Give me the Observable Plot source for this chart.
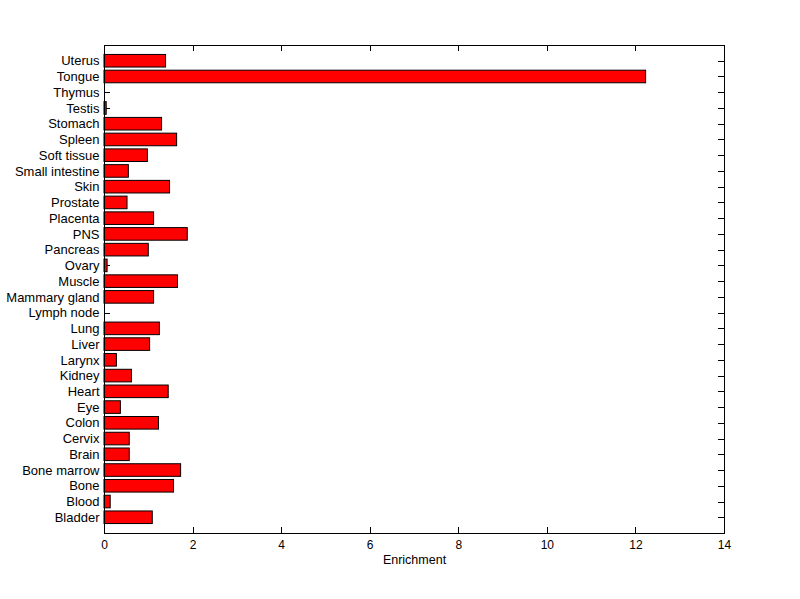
<!DOCTYPE html>
<html><head><meta charset="utf-8">
<script src="https://cdn.jsdelivr.net/npm/d3@7"></script>
<script src="https://cdn.jsdelivr.net/npm/@observablehq/plot@0.6"></script>
<style>body{margin:0;background:#fff}</style>
</head><body><div id="chart"></div>
<script>
const tissues = ["Uterus","Tongue","Thymus","Testis","Stomach","Spleen","Soft tissue","Small intestine","Skin","Prostate","Placenta","PNS","Pancreas","Ovary","Muscle","Mammary gland","Lymph node","Lung","Liver","Larynx","Kidney","Heart","Eye","Colon","Cervix","Brain","Bone marrow","Bone","Blood","Bladder"];
const enrichment = [1.39,12.23,0,0.05,1.30,1.64,0.98,0.55,1.48,0.52,1.12,1.88,1.00,0.07,1.66,1.12,0,1.25,1.03,0.28,0.62,1.45,0.37,1.23,0.57,0.57,1.73,1.57,0.14,1.09];
const xTicks = [0,2,4,6,8,10,12,14];
const n = tissues.length;
const data = tissues.map((t,i)=>({tissue:t, value:enrichment[i], pos:n-i}));
const positions = data.map(d=>d.pos);
const crisp = {stroke:"#000", strokeWidth:1, shapeRendering:"crispEdges"};
const chart = Plot.plot({
  width:800, height:599,
  marginLeft:104, marginRight:76, marginTop:45, marginBottom:66,
  style:{fontFamily:"'Liberation Sans', Arial, sans-serif", fontSize:"13px", background:"#fff", color:"#000"},
  x:{domain:[0,14]},
  y:{domain:[0,n+1]},
  marks:[
    Plot.tickY(positions, {y:d=>d, insetRight:614, ...crisp}),
    Plot.tickY(positions, {y:d=>d, insetLeft:614, ...crisp}),
    Plot.tickX(xTicks, {x:d=>d, insetBottom:482, ...crisp}),
    Plot.tickX(xTicks, {x:d=>d, insetTop:482, ...crisp}),
    Plot.rectX(data, {x1:0, x2:"value", y1:d=>d.pos-0.4, y2:d=>d.pos+0.4, fill:"#ff0000", stroke:"#000", strokeWidth:1}),
    Plot.frame({stroke:"#000", shapeRendering:"crispEdges"}),
    Plot.axisY({ticks:positions, tickFormat:p=>tissues[n-p], tickSize:0, tickPadding:5, label:null}),
    Plot.axisX({ticks:xTicks, tickSize:0, tickPadding:7, label:null, fontSize:12}),
    Plot.text(["Enrichment"], {frameAnchor:"bottom", dy:30, text:d=>d, fill:"#000", fontSize:12.5})
  ]
});
document.getElementById("chart").appendChild(chart);
</script>
</body></html>
